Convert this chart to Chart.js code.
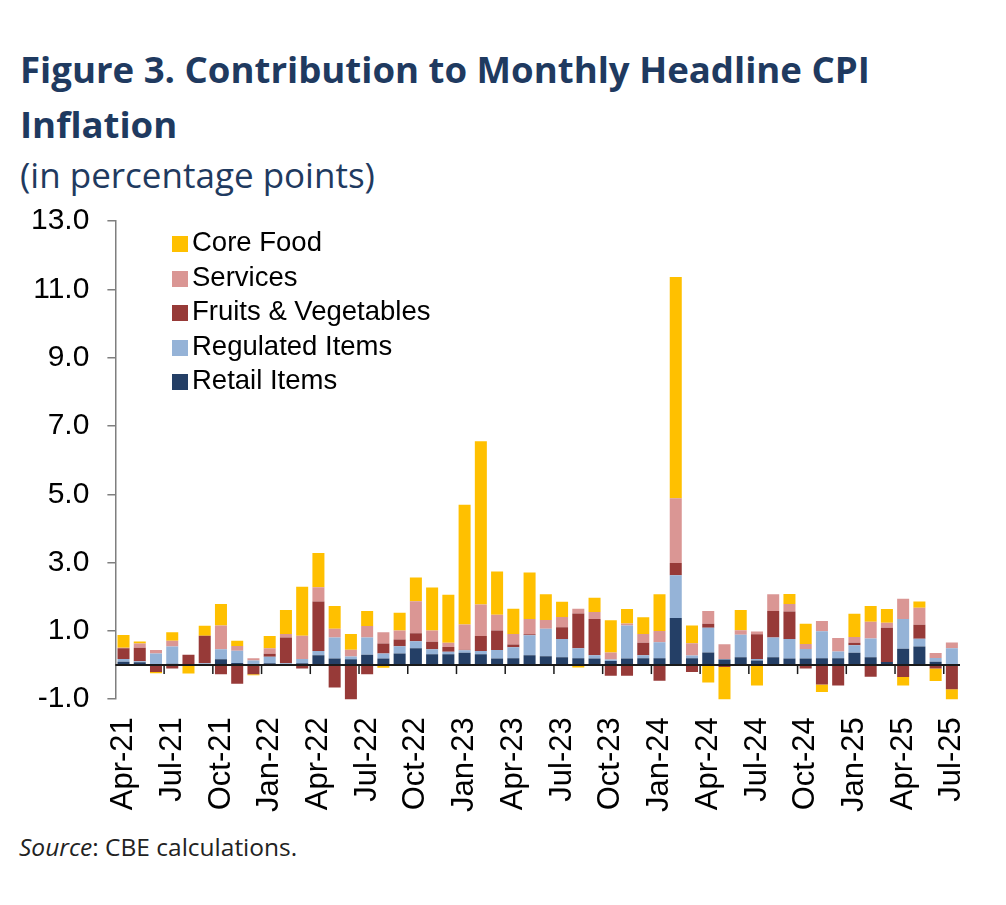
<!DOCTYPE html>
<html>
<head>
<meta charset="utf-8">
<script src="https://cdn.jsdelivr.net/npm/chart.js@4.4.1/dist/chart.umd.min.js"></script>
<style>
  body { margin: 0; background: #fff; width: 1006px; height: 905px; position: relative; overflow: hidden; }
  .title { position: absolute; left: 20px; top: 42px; font-family: "Open Sans", sans-serif; font-weight: 700;
           font-size: 36.6px; line-height: 55px; color: #1f3a60; }
  .sub { position: absolute; left: 20px; top: 151px; font-family: "Open Sans", sans-serif; font-size: 35px; color: #1f3a60; }
  .source { position: absolute; left: 19px; top: 830px; font-family: "Open Sans", sans-serif; font-size: 24.5px; color: #222; }
  #wrap { position: absolute; left: 0; top: 185px; width: 1006px; height: 643px; }
  .legend { position: absolute; left: 172px; top: 225px; font-family: "Liberation Sans", Arial, sans-serif; font-size: 27.5px; color: #000; }
  .legend div { height: 34.5px; line-height: 34px; }
  .legend span { display: inline-block; width: 16px; height: 16px; margin-right: 4px; vertical-align: -1px; }
</style>
</head>
<body>
<div class="title">Figure 3. Contribution to Monthly Headline CPI<br>Inflation</div>
<div class="sub">(in percentage points)</div>
<div id="wrap"><canvas id="cpi"></canvas></div>
<div class="legend" id="legend"></div>
<div class="source"><i>Source</i>: CBE calculations.</div>
<script>
const months = ["Apr-21","May-21","Jun-21","Jul-21","Aug-21","Sep-21","Oct-21","Nov-21","Dec-21",
  "Jan-22","Feb-22","Mar-22","Apr-22","May-22","Jun-22","Jul-22","Aug-22","Sep-22","Oct-22","Nov-22","Dec-22",
  "Jan-23","Feb-23","Mar-23","Apr-23","May-23","Jun-23","Jul-23","Aug-23","Sep-23","Oct-23","Nov-23","Dec-23",
  "Jan-24","Feb-24","Mar-24","Apr-24","May-24","Jun-24","Jul-24","Aug-24","Sep-24","Oct-24","Nov-24","Dec-24",
  "Jan-25","Feb-25","Mar-25","Apr-25","May-25","Jun-25","Jul-25"];

const retail = [0.10,0.08,0.03,0.04,0.02,0.03,0.17,0.06,0.02,0.05,0.03,0.05,0.29,0.19,0.17,0.30,0.19,0.34,0.49,0.32,
  0.32,0.36,0.32,0.19,0.20,0.29,0.26,0.23,0.20,0.19,0.12,0.19,0.20,0.20,1.38,0.20,0.37,0.16,0.23,0.13,
  0.23,0.19,0.19,0.20,0.20,0.36,0.23,0.09,0.48,0.54,0.10,0.03];
const regulated = [0.08,0.03,0.31,0.50,0.00,0.02,0.29,0.36,0.11,0.19,0.02,0.13,0.12,0.62,0.08,0.51,0.15,0.21,0.21,0.14,
  0.07,0.07,0.09,0.25,0.32,0.58,0.80,0.53,0.29,0.10,0.04,0.97,0.09,0.47,1.25,0.08,0.72,0.02,0.66,0.05,
  0.58,0.57,0.28,0.79,0.20,0.22,0.55,0.00,0.87,0.23,0.11,0.46];
const fruitsVeg = [0.31,0.40,-0.20,-0.10,0.28,0.81,-0.27,-0.55,-0.27,0.09,0.76,-0.10,1.45,-0.66,-1.06,-0.27,0.29,0.20,0.23,0.22,
  0.14,0.02,0.44,0.57,0.08,0.03,0.00,0.35,1.02,1.06,-0.31,-0.31,0.36,-0.46,0.36,-0.20,0.12,-0.06,0.00,0.72,
  0.77,0.81,-0.10,-0.57,-0.60,0.07,-0.34,1.00,-0.35,0.41,-0.10,-0.71];
const services = [0.02,0.12,0.10,0.17,0.00,0.00,0.70,0.14,0.07,0.16,0.10,0.68,0.42,0.25,0.20,0.33,0.33,0.26,0.94,0.33,
  0.12,0.74,0.92,0.46,0.31,0.45,0.26,0.30,0.14,0.20,0.21,0.06,0.26,0.33,1.89,0.36,0.37,0.43,0.13,0.08,
  0.49,0.22,0.15,0.30,0.39,0.17,0.49,0.15,0.59,0.50,0.14,0.17];
const coreFood = [0.37,0.06,-0.04,0.25,-0.25,0.29,0.63,0.15,-0.03,0.36,0.70,1.43,1.00,0.67,0.46,0.44,-0.08,0.52,0.69,1.26,
  1.41,3.50,4.78,1.27,0.74,1.36,0.75,0.44,-0.07,0.42,0.94,0.42,0.49,1.07,6.48,0.52,-0.51,-1.03,0.59,-0.60,
  0.00,0.29,0.59,-0.22,0.00,0.68,0.46,0.40,-0.25,0.18,-0.37,-0.38];

const yTicks = [-1, 1, 3, 5, 7, 9, 11, 13];

const series = [
  { label: "Retail Items", data: retail, color: "#243f66" },
  { label: "Regulated Items", data: regulated, color: "#95b3d7" },
  { label: "Fruits & Vegetables", data: fruitsVeg, color: "#973a38" },
  { label: "Services", data: services, color: "#da9694" },
  { label: "Core Food", data: coreFood, color: "#ffc000" }
];

// legend, top to bottom reversed from stacking order
const legendEl = document.getElementById("legend");
series.slice().reverse().forEach(s => {
  const row = document.createElement("div");
  row.innerHTML = '<span style="background:' + s.color + '"></span>' + s.label;
  legendEl.appendChild(row);
});

// zero line and the little ticks on it
const zeroLine = {
  id: "zeroLine",
  afterDatasetsDraw(chart) {
    const { ctx, chartArea, scales } = chart;
    const y0 = scales.y.getPixelForValue(0);
    const step = scales.x.getPixelForValue(1) - scales.x.getPixelForValue(0);
    ctx.save();
    ctx.strokeStyle = "#1a1a1a";
    ctx.lineWidth = 2;
    ctx.beginPath();
    ctx.moveTo(chartArea.left, y0);
    ctx.lineTo(chartArea.right, y0);
    ctx.stroke();
    ctx.lineWidth = 1.5;
    for (let i = 3; i < months.length; i += 3) {
      const x = scales.x.getPixelForValue(i) - step / 2;
      ctx.beginPath();
      ctx.moveTo(x, y0);
      ctx.lineTo(x, y0 + 9);
      ctx.stroke();
    }
    ctx.restore();
  }
};

Chart.defaults.font.family = "'Liberation Sans', Arial, sans-serif";
Chart.defaults.color = "#000";

new Chart(document.getElementById("cpi"), {
  type: "bar",
  data: {
    labels: months,
    datasets: series.map(s => ({
      label: s.label,
      data: s.data,
      backgroundColor: s.color,
      borderWidth: 0,
      barPercentage: 0.74,
      categoryPercentage: 1.0
    }))
  },
  options: {
    responsive: true,
    maintainAspectRatio: false,
    animation: false,
    layout: { padding: { top: 20, left: 13, right: 46, bottom: 6 } },
    plugins: { legend: { display: false }, tooltip: { enabled: false } },
    scales: {
      x: {
        stacked: true,
        grid: { display: false },
        border: { display: false },
        ticks: {
          autoSkip: false,
          minRotation: 90,
          maxRotation: 90,
          padding: 10,
          font: { size: 31 },
          callback: (v, i) => (i % 3 === 0 ? months[i] : "")
        }
      },
      y: {
        stacked: true,
        min: -1,
        max: 13,
        afterBuildTicks: axis => { axis.ticks = yTicks.map(v => ({ value: v })); },
        grid: { drawOnChartArea: false, tickLength: 8, color: "#7f7f7f", lineWidth: 1.5 },
        border: { color: "#7f7f7f", width: 1.5 },
        ticks: {
          padding: 18,
          font: { size: 30 },
          callback: v => v.toFixed(1)
        }
      }
    }
  },
  plugins: [zeroLine]
});
</script>
</body>
</html>
